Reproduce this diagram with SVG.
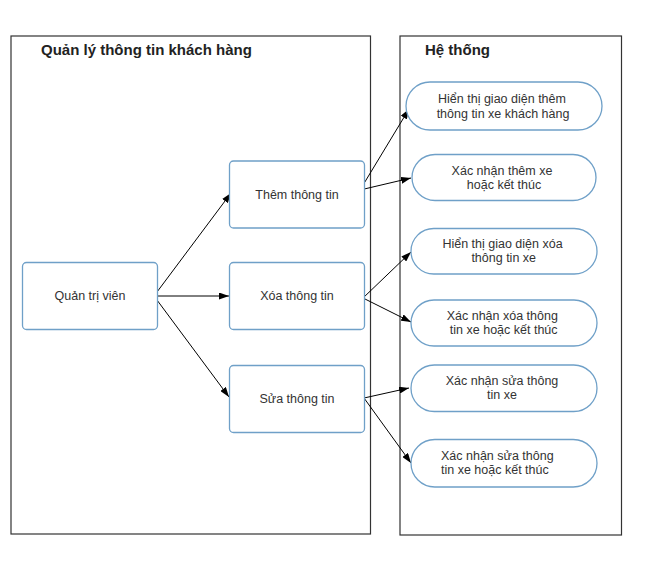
<svg xmlns="http://www.w3.org/2000/svg" width="662" height="587" viewBox="0 0 662 587">
<style>
.container{fill:none;stroke:#333;stroke-width:1.2}
.title{font-family:"Liberation Sans",Arial,sans-serif;font-size:15px;font-weight:bold;fill:#222}
.box{fill:#fff;stroke:#6fa0c8;stroke-width:1.3}
.lbl{font-family:"Liberation Sans",Arial,sans-serif;font-size:12.5px;fill:#333;text-anchor:middle}
.lbl-start{font-family:"Liberation Sans",Arial,sans-serif;font-size:12.5px;fill:#333}
.edge{stroke:#000;stroke-width:1;fill:none;marker-end:url(#arrow)}
</style>
<defs>
<marker id="arrow" viewBox="0 0 10 7" refX="10" refY="3.5" markerWidth="10" markerHeight="7" markerUnits="userSpaceOnUse" orient="auto">
<path d="M0,0 L10,3.5 L0,7 z" fill="#000"/>
</marker>
</defs>
<rect width="662" height="587" fill="#fff"/>
<g id="lane-left">
<rect class="container" x="11" y="36" width="359.5" height="498"/>
<text class="title" x="41" y="55">Quản lý thông tin khách hàng</text>
</g>
<g id="lane-right">
<rect class="container" x="400" y="36" width="221.5" height="499"/>
<text class="title" x="425" y="55">Hệ thống</text>
</g>
<g id="connectors">
<line class="edge" x1="154" y1="296" x2="231" y2="193"/>
<line class="edge" x1="154" y1="296" x2="229" y2="296"/>
<line class="edge" x1="154" y1="296" x2="229" y2="397"/>
<line class="edge" x1="360" y1="190" x2="409" y2="109"/>
<line class="edge" x1="360" y1="190" x2="411" y2="178"/>
<line class="edge" x1="363" y1="298" x2="411" y2="252"/>
<line class="edge" x1="363" y1="298" x2="411" y2="322"/>
<line class="edge" x1="364" y1="398" x2="409" y2="388"/>
<line class="edge" x1="364" y1="398" x2="411" y2="463"/>
</g>
<g id="quan-tri-vien">
<rect class="box" x="22.5" y="262.5" width="135" height="67" rx="4"/>
<text class="lbl" x="90" y="300">Quản trị viên</text>
</g>
<g id="them-thong-tin">
<rect class="box" x="229.5" y="161" width="135" height="67" rx="4"/>
<text class="lbl" x="297" y="198.5">Thêm thông tin</text>
</g>
<g id="xoa-thong-tin">
<rect class="box" x="229.5" y="262.5" width="135" height="67" rx="4"/>
<text class="lbl" x="297" y="300">Xóa thông tin</text>
</g>
<g id="sua-thong-tin">
<rect class="box" x="229.5" y="365.5" width="135" height="67" rx="4"/>
<text class="lbl" x="297" y="403">Sửa thông tin</text>
</g>
<g id="hien-thi-them">
<rect class="box" x="406" y="82" width="196" height="48" rx="24"/>
<text class="lbl" x="502" y="103.3">Hiển thị giao diện thêm</text>
<text class="lbl" x="503" y="117.5">thông tin xe khách hàng</text>
</g>
<g id="xac-nhan-them">
<rect class="box" x="412" y="154.5" width="184" height="46" rx="23"/>
<text class="lbl" x="502" y="174.5">Xác nhận thêm xe</text>
<text class="lbl" x="504" y="188.5">hoặc kết thúc</text>
</g>
<g id="hien-thi-xoa">
<rect class="box" x="411" y="228.5" width="186" height="45.5" rx="22.75"/>
<text class="lbl" x="502.5" y="247.5">Hiển thị giao diện xóa</text>
<text class="lbl" x="503.7" y="261.8">thông tin xe</text>
</g>
<g id="xac-nhan-xoa">
<rect class="box" x="411" y="300" width="186" height="46" rx="23"/>
<text class="lbl" x="502.3" y="319.5">Xác nhận xóa thông</text>
<text class="lbl" x="503.7" y="333.5">tin xe hoặc kết thúc</text>
</g>
<g id="xac-nhan-sua-1">
<rect class="box" x="411" y="365" width="186" height="46.5" rx="23.25"/>
<text class="lbl" x="502" y="385.3">Xác nhận sửa thông</text>
<text class="lbl" x="502" y="399">tin xe</text>
</g>
<g id="xac-nhan-sua-2">
<rect class="box" x="411" y="439.5" width="186" height="47.5" rx="23.75"/>
<text class="lbl-start" x="441" y="460.3">Xác nhận sửa thông</text>
<text class="lbl-start" x="441" y="474.3">tin xe hoặc kết thúc</text>
</g>
</svg>
